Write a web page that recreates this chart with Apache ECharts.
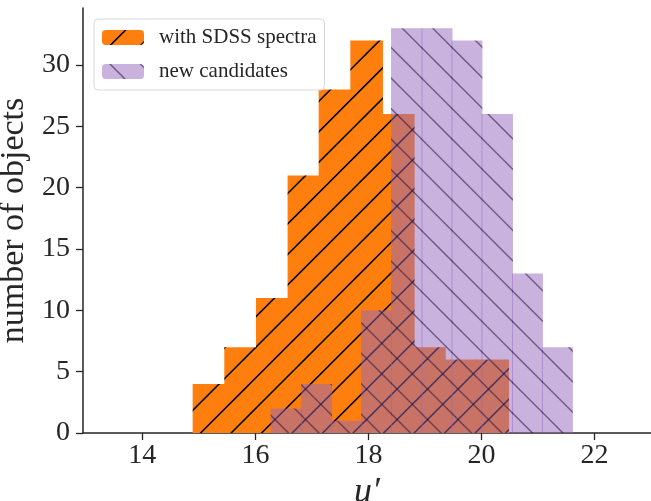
<!DOCTYPE html>
<html>
<head>
<meta charset="utf-8">
<script src="https://cdn.jsdelivr.net/npm/echarts@6/dist/echarts.min.js"></script>
<style>html,body{margin:0;padding:0;background:#fff}#c{width:651px;height:501px}</style>
</head>
<body>
<div id="c"></div>
<script>
// ---- data ----
const orangeEdges = [14.89, 15.45, 16.01, 16.57, 17.12, 17.68, 18.24, 18.80, 19.35, 19.91, 20.47];
const orangeCounts = [4, 7, 11, 21, 28, 32, 26, 7, 6, 6];
const purpleEdges = [16.27, 16.81, 17.34, 17.87, 18.40, 18.94, 19.47, 20.00, 20.54, 21.07, 21.60];
const purpleCounts = [2, 4, 1, 10, 33, 33, 32, 26, 13, 7];
const xTicks = [14, 16, 18, 20, 22];
const yTicks = [0, 5, 10, 15, 20, 25, 30];
const seriesNames = ['with SDSS spectra', 'new candidates'];

function toBins(edges, counts) {
  return counts.map((c, i) => [edges[i], edges[i + 1], c]);
}

function makeHatch(fill, lineColor, dir, phase) {
  const S = 30.5, T = 61;
  const cv = document.createElement('canvas');
  cv.width = T; cv.height = T;
  const ctx = cv.getContext('2d');
  ctx.fillStyle = fill;
  ctx.fillRect(0, 0, T, T);
  ctx.strokeStyle = lineColor;
  ctx.lineWidth = 1.5;
  for (let k = -5; k <= 5; k++) {
    const d = phase + k * S;
    ctx.beginPath();
    if (dir === '/') { ctx.moveTo(-100, d + 100); ctx.lineTo(d + 100, -100); }
    else { ctx.moveTo(-100, -100 - d); ctx.lineTo(200, 200 - d); }
    ctx.stroke();
  }
  return { image: cv, repeat: 'repeat' };
}

const orangeFill = makeHatch('#ff7f0e', 'rgba(0,0,0,1)', '/', 23.6);
const purpleFill = makeHatch('rgba(148,103,189,0.5)', 'rgba(40,20,60,0.55)', '\\', 8);

function renderHist(fill) {
  return function (params, api) {
    const p0 = api.coord([api.value(0), api.value(2)]);
    const p1 = api.coord([api.value(1), 0]);
    return {
      type: 'rect',
      shape: { x: p0[0], y: p0[1], width: p1[0] - p0[0] + 1, height: p1[1] - p0[1] },
      style: { fill: fill }
    };
  };
}

const serif = 'Liberation Serif';
const ink = '#262626';
const chart = echarts.init(document.getElementById('c'));
chart.setOption({
  animation: false,
  backgroundColor: '#fff',
  grid: { left: 83, right: 0, top: 8, bottom: 68, containLabel: false, outerBoundsMode: 'none' },
  xAxis: {
    type: 'value', min: 12.95, max: 23,
    axisLine: { show: true, lineStyle: { color: ink, width: 1.5 } },
    axisTick: { show: true, length: 7, inside: false, customValues: xTicks, lineStyle: { color: ink, width: 1.3 } },
    axisLabel: { customValues: xTicks, margin: 9, fontFamily: serif, fontSize: 28, color: ink },
    splitLine: { show: false },
    name: 'u\u2032', nameLocation: 'middle', nameGap: 37,
    nameTextStyle: { fontFamily: serif, fontStyle: 'italic', fontSize: 36, color: ink }
  },
  yAxis: {
    type: 'value', min: 0, max: 34.65,
    axisLine: { show: true, lineStyle: { color: ink, width: 1.5 } },
    axisTick: { show: true, length: 7, inside: false, customValues: yTicks, lineStyle: { color: ink, width: 1.3 } },
    axisLabel: { customValues: yTicks, margin: 13, fontFamily: serif, fontSize: 28, color: ink },
    splitLine: { show: false },
    name: 'number of objects', nameLocation: 'middle', nameGap: 42, nameRotate: 90,
    nameTextStyle: { fontFamily: serif, fontSize: 34, color: ink }
  },
  legend: {
    orient: 'vertical', left: 94, top: 19,
    padding: [8, 8, 8, 8], itemGap: 13,
    itemWidth: 42, itemHeight: 15,
    data: seriesNames,
    backgroundColor: 'rgba(255,255,255,0.8)',
    borderColor: '#d8d8d8', borderWidth: 1, borderRadius: 4,
    textStyle: { fontFamily: serif, fontSize: 21, color: ink, padding: [0, 0, 0, 10], width: 163 },
    selectedMode: false
  },
  series: [
    {
      name: seriesNames[0], type: 'custom', renderItem: renderHist(orangeFill),
      itemStyle: { color: orangeFill },
      encode: { x: [0, 1], y: 2 },
      data: toBins(orangeEdges, orangeCounts)
    },
    {
      name: seriesNames[1], type: 'custom', renderItem: renderHist(purpleFill),
      itemStyle: { color: purpleFill },
      encode: { x: [0, 1], y: 2 },
      data: toBins(purpleEdges, purpleCounts)
    }
  ]
});
</script>
</body>
</html>
